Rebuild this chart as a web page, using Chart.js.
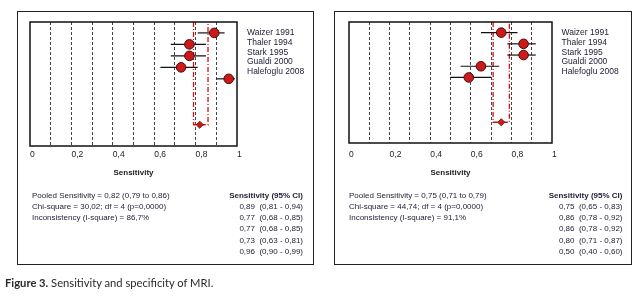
<!DOCTYPE html>
<html>
<head>
<meta charset="utf-8">
<script src="https://cdn.jsdelivr.net/npm/chart.js@4"></script>
<style>
  body { margin: 0; background: #fff; width: 643px; height: 302px; position: relative; overflow: hidden; }
  .box { position: absolute; border: 1px solid #222; box-sizing: border-box; }
  canvas { position: absolute; left: 0; top: 0; }
  .txt { position: absolute; font-family: "Liberation Sans", Arial, sans-serif; color: #23233a; white-space: pre; }
  .names { font-size: 8.5px; line-height: 9.8px; }
  .stats { font-size: 8px; line-height: 11.3px; }
  .ci { font-size: 8px; line-height: 11.3px; text-align: right; }
  .ci b { font-weight: bold; }
  #caption { position: absolute; left: 5px; top: 276px; font-family: Lato, "Open Sans", sans-serif; font-size: 11.2px; color: #2a2a2a; white-space: pre; }
</style>
</head>
<body>
<div class="box" style="left:17px;top:11px;width:297px;height:254px"></div>
<div class="box" style="left:334px;top:11px;width:298px;height:254px"></div>
<canvas id="left" width="643" height="302"></canvas>
<canvas id="right" width="643" height="302"></canvas>
<div id="caption"><b>Figure 3.</b> Sensitivity and specificity of MRI.</div>
<script>
// studies and tick labels
const studies = ["Waizer 1991", "Thaler 1994", "Stark 1995", "Gualdi 2000", "Halefoglu 2008"];
const xTickLabels = ["0", "", "0,2", "", "0,4", "", "0,6", "", "0,8", "", "1"];

// left panel (as plotted)
const leftEst = [0.89, 0.77, 0.77, 0.73, 0.96];
const leftLo = [0.81, 0.68, 0.68, 0.63, 0.90];
const leftHi = [0.94, 0.85, 0.85, 0.81, 0.99];
const leftPooled = [0.82, 0.79, 0.86]; // estimate, low, high
const leftStats = ["Pooled Sensitivity = 0,82 (0,79 to 0,86)", "Chi-square = 30,02; df = 4 (p=0,0000)", "Inconsistency (I-square) = 86,7%"];
const leftCiText = ["0,89  (0,81 - 0,94)", "0,77  (0,68 - 0,85)", "0,77  (0,68 - 0,85)", "0,73  (0,63 - 0,81)", "0,96  (0,90 - 0,99)"];

// right panel (as plotted)
const rightEst = [0.75, 0.86, 0.86, 0.65, 0.59];
const rightLo = [0.65, 0.78, 0.78, 0.55, 0.50];
const rightHi = [0.83, 0.92, 0.92, 0.74, 0.70];
const rightPooled = [0.75, 0.71, 0.79];
const rightStats = ["Pooled Sensitivity = 0,75 (0,71 to 0,79)", "Chi-square = 44,74; df = 4 (p=0,0000)", "Inconsistency (I-square) = 91,1%"];
const rightCiText = ["0,75  (0,65 - 0,83)", "0,86  (0,78 - 0,92)", "0,86  (0,78 - 0,92)", "0,80  (0,71 - 0,87)", "0,50  (0,40 - 0,60)"];

const Y_MIN = -0.95, Y_MAX = 9.85, POOLED_ROW = 8;

// draws the frame round the plot area
const frame = {
  id: "frame",
  afterDatasetsDraw(chart) {
    const { ctx, chartArea: a } = chart;
    ctx.save();
    ctx.strokeStyle = "#111";
    ctx.lineWidth = 1.5;
    ctx.strokeRect(a.left, a.top, a.right - a.left, a.bottom - a.top);
    ctx.restore();
  }
};

function makeForest(id, est, lo, hi, pooled, pad, tickPad, titlePad) {
  const datasets = [];
  datasets.push({
    data: est.map((v, i) => ({ x: v, y: i })),
    pointRadius: 4.8,
    pointBackgroundColor: "#cc1a1a",
    pointBorderColor: "#4a0a0a",
    pointBorderWidth: 1,
    order: 1
  });
  datasets.push({
    data: [{ x: pooled[0], y: POOLED_ROW }],
    pointStyle: "rectRot",
    pointRadius: 3.6,
    pointBackgroundColor: "#cc1a1a",
    pointBorderColor: "#5a0a0a",
    pointBorderWidth: 0.8,
    order: 2
  });
  est.forEach((v, i) => {
    datasets.push({
      data: [{ x: lo[i], y: i }, { x: hi[i], y: i }],
      showLine: true,
      borderColor: "#111",
      borderWidth: 1.2,
      pointRadius: 0,
      order: 5
    });
  });
  datasets.push({
    data: [
      { x: pooled[1], y: Y_MIN }, { x: pooled[1], y: POOLED_ROW },
      { x: pooled[2], y: POOLED_ROW }, { x: pooled[2], y: Y_MIN }
    ],
    showLine: true,
    borderColor: "#d01010",
    borderWidth: 1.3,
    borderDash: [5, 2, 1, 2],
    pointRadius: 0,
    order: 6
  });

  new Chart(document.getElementById(id), {
    type: "scatter",
    data: { datasets },
    options: {
      responsive: false,
      animation: false,
      layout: { padding: pad },
      plugins: { legend: { display: false }, tooltip: { enabled: false } },
      scales: {
        x: {
          type: "linear",
          min: 0,
          max: 1,
          afterFit: s => { s.height = 40; },
          grid: {
            drawTicks: false,
            color: c => (c.tick && (c.tick.value < 0.01 || c.tick.value > 0.99)) ? "rgba(0,0,0,0)" : "#444",
            lineWidth: 1
          },
          border: { display: false, dash: [3, 2] },
          ticks: {
            stepSize: 0.1,
            autoSkip: false,
            maxRotation: 0,
            align: "start",
            padding: tickPad,
            color: "#222",
            font: { family: "Liberation Sans", size: 8.5 },
            callback: (v, i) => xTickLabels[i]
          },
          title: {
            display: true,
            text: "Sensitivity",
            color: "#222",
            font: { family: "Liberation Sans", size: 8, weight: "bold" },
            padding: { top: 0, bottom: titlePad }
          }
        },
        y: { type: "linear", display: false, reverse: true, min: Y_MIN, max: Y_MAX }
      }
    },
    plugins: [frame]
  });
}

makeForest("left", leftEst, leftLo, leftHi, leftPooled, { left: 30, right: 406, top: 22, bottom: 116 }, 4, 8);
makeForest("right", rightEst, rightLo, rightHi, rightPooled, { left: 349, right: 91, top: 22, bottom: 119 }, 7, 5);

// text blocks
function addText(cls, left, top, html, rightEdge) {
  const d = document.createElement("div");
  d.className = "txt " + cls;
  d.style.top = top + "px";
  if (rightEdge !== undefined) d.style.right = (643 - rightEdge) + "px";
  else d.style.left = left + "px";
  d.innerHTML = html;
  document.body.appendChild(d);
}
addText("names", 247, 28, studies.join("\n"));
addText("names", 561.5, 28, studies.join("\n"));
addText("stats", 32, 189.5, leftStats.join("\n"));
addText("stats", 349, 189.5, rightStats.join("\n"));
addText("ci", 0, 189.5, "<b>Sensitivity (95% CI)</b>\n" + leftCiText.join("\n"), 303);
addText("ci", 0, 189.5, "<b>Sensitivity (95% CI)</b>\n" + rightCiText.join("\n"), 622.5);
</script>
</body>
</html>
